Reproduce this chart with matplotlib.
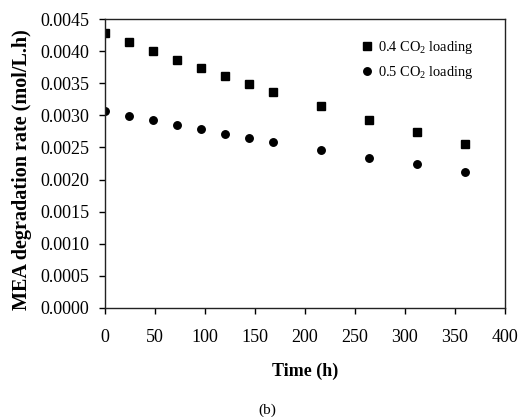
import matplotlib
matplotlib.use("Agg")
import matplotlib.pyplot as plt

plt.rcParams['font.family'] = ['Liberation Serif', 'DejaVu Serif']
plt.rcParams['mathtext.fontset'] = 'custom'
plt.rcParams['mathtext.rm'] = 'Liberation Serif'
plt.rcParams['mathtext.it'] = 'Liberation Serif:italic'
plt.rcParams['mathtext.bf'] = 'Liberation Serif:bold'

time_h = [0, 24, 48, 72, 96, 120, 144, 168, 216, 264, 312, 360]
rate_04 = [0.00428, 0.00414, 0.00400, 0.00386, 0.00374, 0.00361, 0.00349,
           0.00337, 0.00314, 0.00293, 0.00274, 0.00255]
rate_05 = [0.00307, 0.00299, 0.00293, 0.00285, 0.00279, 0.00271, 0.00265,
           0.00259, 0.00246, 0.00234, 0.00224, 0.00212]
label_04 = r'0.4 CO$_2$ loading'
label_05 = r'0.5 CO$_2$ loading'
xticks = [0, 50, 100, 150, 200, 250, 300, 350, 400]
yticks = [0.0000, 0.0005, 0.0010, 0.0015, 0.0020, 0.0025, 0.0030, 0.0035, 0.0040, 0.0045]

fig = plt.figure(figsize=(5.18, 4.17), dpi=100)
ax = fig.add_axes([105/518, 1-308/417, 400/518, 289/417])

ax.plot(time_h, rate_04, linestyle='none', marker='s', color='black', markersize=5.2, label=label_04)
ax.plot(time_h, rate_05, linestyle='none', marker='o', color='black', markersize=5.4, label=label_05)

ax.set_xlim(0, 400)
ax.set_ylim(0, 0.0045)
ax.set_xticks(xticks)
ax.set_yticks(yticks)
ax.set_xticklabels([str(t) for t in xticks])
ax.set_yticklabels([f'{v:.4f}' for v in yticks])
ax.tick_params(axis='both', direction='out', length=4.3, width=1, labelsize=13, colors='black')
ax.tick_params(axis='x', pad=11)
ax.tick_params(axis='y', pad=7)
for s in ax.spines.values():
    s.set_linewidth(1)
    s.set_color('#222222')

ax.set_xlabel('Time (h)', fontsize=13, fontweight='bold', labelpad=12)
fig.text(22/518, 1-170/417, 'MEA degradation rate (mol/L.h)', rotation=90,
         ha='center', va='center', fontsize=14.5, fontweight='bold')

leg = ax.legend(loc='upper left', bbox_to_anchor=(0.62, 0.95), frameon=False,
                fontsize=10.4, handletextpad=0.1, handlelength=1.2, labelspacing=0.55,
                borderaxespad=0)

fig.text(267/518, 1-410/417, '(b)', ha='center', va='center', fontsize=11)

fig.savefig('out.png', dpi=100)
